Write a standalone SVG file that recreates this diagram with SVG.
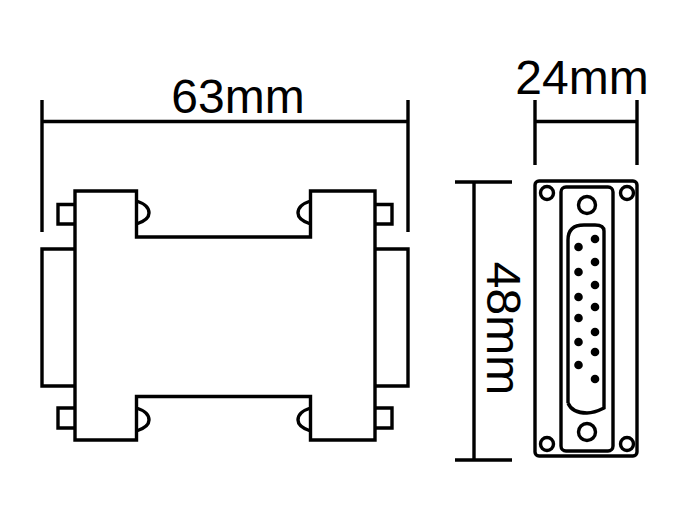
<svg xmlns="http://www.w3.org/2000/svg" width="675" height="520" viewBox="0 0 675 520">
<style>
.l{fill:none;stroke:#000;stroke-width:3.4}
.w{fill:#fff;stroke:#000;stroke-width:3.4}
.t{font-family:"Liberation Sans",Arial,sans-serif;font-size:48px;fill:#000}
.p{fill:#000}
</style>
<rect width="675" height="520" fill="#fff"/>
<g id="connectors">
<path class="l" d="M42 100V232M408 100V232M42 121.500H408"/>
<path class="l" d="M535 100V165M637 100V165M535 121.500H637"/>
<path class="l" d="M455 182H512M455 460H512M474 182V460"/>
</g>
<g id="side-view">
<path class="l" d="M75 249H42V386H75M375 249H408V386H375"/>
<path class="l" d="M75 204.500H58V224H75M75 408H58V428H75M375 204.500H392V224H375M375 408H392V428H375"/>
<path class="l" d="M136.500 201Q149 205 149 213Q149 220 136.500 224M136.500 408Q149 412 149 420Q149 427 136.500 431M310.500 201Q298 205 298 213Q298 220 310.500 224M310.500 408Q298 412 298 420Q298 427 310.500 431"/>
<path class="w" d="M75 191H136.500V237H310.500V191H375V440H310.500V396.500H136.500V440H75Z"/>
</g>
<g id="end-view">
<rect class="l" x="535" y="181" width="102" height="275" rx="4"/>
<rect class="l" x="561" y="187" width="52" height="264" rx="5"/>
<circle class="l" cx="547" cy="193" r="6.500"/>
<circle class="l" cx="627" cy="193" r="6.500"/>
<circle class="l" cx="547" cy="444" r="6.500"/>
<circle class="l" cx="627" cy="444" r="6.500"/>
<circle class="l" cx="587" cy="205" r="8.500"/>
<circle class="l" cx="587" cy="432" r="8.500"/>
<path class="l" d="M568 403V240Q568 225 584 225H595Q604 225 604 231V408Q594 413 587 413Q572 413 568 403"/>
<circle class="p" cx="595" cy="239" r="4.300"/>
<circle class="p" cx="595" cy="262" r="4.300"/>
<circle class="p" cx="595" cy="285" r="4.300"/>
<circle class="p" cx="595" cy="307" r="4.300"/>
<circle class="p" cx="595" cy="332" r="4.300"/>
<circle class="p" cx="595" cy="352" r="4.300"/>
<circle class="p" cx="595" cy="379" r="4.300"/>
<circle class="p" cx="578.500" cy="247" r="4.300"/>
<circle class="p" cx="578.500" cy="272" r="4.300"/>
<circle class="p" cx="578.500" cy="297" r="4.300"/>
<circle class="p" cx="578.500" cy="318" r="4.300"/>
<circle class="p" cx="578.500" cy="342" r="4.300"/>
<circle class="p" cx="578.500" cy="365" r="4.300"/>
</g>
<text class="t" x="238" y="113" text-anchor="middle">63mm</text>
<text class="t" x="582" y="94" text-anchor="middle">24mm</text>
<text class="t" transform="translate(487 328.500) rotate(90)" text-anchor="middle">48mm</text>
</svg>
